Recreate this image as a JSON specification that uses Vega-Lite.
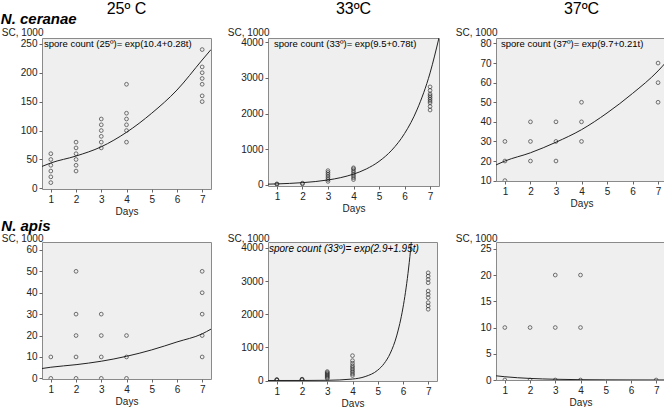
{
  "$schema": "https://vega.github.io/schema/vega-lite/v6.json",
  "padding": {"left": 0, "top": 0, "right": 0, "bottom": 0},
  "title": {"text": "N. ceranae", "anchor": "start", "frame": "bounds", "fontSize": 15, "fontStyle": "italic", "fontWeight": "bold", "font": "Liberation Sans", "color": "#000000", "dy": 38, "offset": 0, "baseline": "alphabetic"},
  "datasets": {
    "p1": [
      {"day": 1, "sc": 10}, {"day": 1, "sc": 20}, {"day": 1, "sc": 30}, {"day": 1, "sc": 40}, {"day": 1, "sc": 50}, {"day": 1, "sc": 60},
      {"day": 2, "sc": 30}, {"day": 2, "sc": 40}, {"day": 2, "sc": 50}, {"day": 2, "sc": 60}, {"day": 2, "sc": 70}, {"day": 2, "sc": 80},
      {"day": 3, "sc": 70}, {"day": 3, "sc": 80}, {"day": 3, "sc": 90}, {"day": 3, "sc": 100}, {"day": 3, "sc": 110}, {"day": 3, "sc": 120},
      {"day": 4, "sc": 80}, {"day": 4, "sc": 100}, {"day": 4, "sc": 110}, {"day": 4, "sc": 120}, {"day": 4, "sc": 130}, {"day": 4, "sc": 180},
      {"day": 7, "sc": 150}, {"day": 7, "sc": 160}, {"day": 7, "sc": 180}, {"day": 7, "sc": 190}, {"day": 7, "sc": 200}, {"day": 7, "sc": 210}, {"day": 7, "sc": 240}
    ],
    "c1": [
      {"day": 0.65, "sc": 38}, {"day": 1, "sc": 44}, {"day": 2, "sc": 56}, {"day": 3, "sc": 72}, {"day": 4, "sc": 97},
      {"day": 5, "sc": 130}, {"day": 6, "sc": 170}, {"day": 7, "sc": 222}, {"day": 7.35, "sc": 240}
    ],
    "p2": [
      {"day": 1, "sc": 20}, {"day": 1, "sc": 30},
      {"day": 2, "sc": 30}, {"day": 2, "sc": 50},
      {"day": 3, "sc": 100}, {"day": 3, "sc": 150}, {"day": 3, "sc": 200}, {"day": 3, "sc": 250}, {"day": 3, "sc": 300}, {"day": 3, "sc": 350}, {"day": 3, "sc": 400},
      {"day": 4, "sc": 150}, {"day": 4, "sc": 200}, {"day": 4, "sc": 250}, {"day": 4, "sc": 300}, {"day": 4, "sc": 350}, {"day": 4, "sc": 400}, {"day": 4, "sc": 450}, {"day": 4, "sc": 480},
      {"day": 7, "sc": 2100}, {"day": 7, "sc": 2200}, {"day": 7, "sc": 2300}, {"day": 7, "sc": 2350}, {"day": 7, "sc": 2400}, {"day": 7, "sc": 2450}, {"day": 7, "sc": 2500}, {"day": 7, "sc": 2550}, {"day": 7, "sc": 2650}, {"day": 7, "sc": 2750}
    ],
    "c2": [
      {"day": 0.65, "sc": 22}, {"day": 1, "sc": 29}, {"day": 1.5, "sc": 43}, {"day": 2, "sc": 64}, {"day": 2.5, "sc": 94},
      {"day": 3, "sc": 139}, {"day": 3.5, "sc": 205}, {"day": 4, "sc": 303}, {"day": 4.5, "sc": 447}, {"day": 5, "sc": 660},
      {"day": 5.5, "sc": 975}, {"day": 6, "sc": 1440}, {"day": 6.5, "sc": 2127}, {"day": 7, "sc": 3141}, {"day": 7.35, "sc": 4127}
    ],
    "p3": [
      {"day": 1, "sc": 10}, {"day": 1, "sc": 20}, {"day": 1, "sc": 30},
      {"day": 2, "sc": 20}, {"day": 2, "sc": 30}, {"day": 2, "sc": 40},
      {"day": 3, "sc": 20}, {"day": 3, "sc": 30}, {"day": 3, "sc": 40},
      {"day": 4, "sc": 30}, {"day": 4, "sc": 40}, {"day": 4, "sc": 50},
      {"day": 7, "sc": 50}, {"day": 7, "sc": 60}, {"day": 7, "sc": 70}
    ],
    "c3": [
      {"day": 0.65, "sc": 18}, {"day": 1, "sc": 20}, {"day": 2, "sc": 24.2}, {"day": 3, "sc": 29.6}, {"day": 4, "sc": 36},
      {"day": 5, "sc": 44.5}, {"day": 6, "sc": 54.5}, {"day": 7, "sc": 66}, {"day": 7.35, "sc": 71}
    ],
    "p4": [
      {"day": 1, "sc": 0}, {"day": 1, "sc": 10},
      {"day": 2, "sc": 0}, {"day": 2, "sc": 10}, {"day": 2, "sc": 20}, {"day": 2, "sc": 30}, {"day": 2, "sc": 50},
      {"day": 3, "sc": 0}, {"day": 3, "sc": 10}, {"day": 3, "sc": 20}, {"day": 3, "sc": 30},
      {"day": 4, "sc": 0}, {"day": 4, "sc": 10}, {"day": 4, "sc": 20},
      {"day": 7, "sc": 10}, {"day": 7, "sc": 20}, {"day": 7, "sc": 30}, {"day": 7, "sc": 40}, {"day": 7, "sc": 50}
    ],
    "c4": [
      {"day": 0.65, "sc": 4.6}, {"day": 1, "sc": 5.2}, {"day": 2, "sc": 6.4}, {"day": 3, "sc": 8.0}, {"day": 4, "sc": 10.3},
      {"day": 5, "sc": 13.3}, {"day": 6, "sc": 17}, {"day": 7, "sc": 20.8}, {"day": 7.35, "sc": 23}
    ],
    "p5": [
      {"day": 1, "sc": 10}, {"day": 1, "sc": 20}, {"day": 1, "sc": 30},
      {"day": 2, "sc": 20}, {"day": 2, "sc": 30}, {"day": 2, "sc": 40},
      {"day": 3, "sc": 60}, {"day": 3, "sc": 90}, {"day": 3, "sc": 120}, {"day": 3, "sc": 150}, {"day": 3, "sc": 180}, {"day": 3, "sc": 210}, {"day": 3, "sc": 240}, {"day": 3, "sc": 270},
      {"day": 4, "sc": 150}, {"day": 4, "sc": 200}, {"day": 4, "sc": 250}, {"day": 4, "sc": 300}, {"day": 4, "sc": 350}, {"day": 4, "sc": 400}, {"day": 4, "sc": 450}, {"day": 4, "sc": 520}, {"day": 4, "sc": 600}, {"day": 4, "sc": 750},
      {"day": 7, "sc": 2150}, {"day": 7, "sc": 2250}, {"day": 7, "sc": 2350}, {"day": 7, "sc": 2500}, {"day": 7, "sc": 2600}, {"day": 7, "sc": 2700}, {"day": 7, "sc": 2950}, {"day": 7, "sc": 3050}, {"day": 7, "sc": 3150}, {"day": 7, "sc": 3250}
    ],
    "c5": [
      {"day": 0.65, "sc": 0.07}, {"day": 1, "sc": 0.13}, {"day": 2, "sc": 0.9}, {"day": 3, "sc": 6.3}, {"day": 4, "sc": 44},
      {"day": 4.5, "sc": 118}, {"day": 5, "sc": 312}, {"day": 5.25, "sc": 508}, {"day": 5.5, "sc": 826}, {"day": 5.75, "sc": 1345},
      {"day": 6, "sc": 2191}, {"day": 6.1, "sc": 2662}, {"day": 6.2, "sc": 3234}, {"day": 6.3, "sc": 3930}, {"day": 6.4, "sc": 4775}
    ],
    "p6": [
      {"day": 1, "sc": 0}, {"day": 1, "sc": 10},
      {"day": 2, "sc": 0}, {"day": 2, "sc": 10},
      {"day": 3, "sc": 0}, {"day": 3, "sc": 10}, {"day": 3, "sc": 20},
      {"day": 4, "sc": 0}, {"day": 4, "sc": 10}, {"day": 4, "sc": 20},
      {"day": 7, "sc": 0}
    ],
    "c6": [
      {"day": 0.65, "sc": 0.8}, {"day": 1, "sc": 0.62}, {"day": 2, "sc": 0.3}, {"day": 3, "sc": 0.14}, {"day": 4, "sc": 0.06},
      {"day": 5, "sc": 0.03}, {"day": 6, "sc": 0.012}, {"day": 7, "sc": 0.005}, {"day": 7.35, "sc": 0.004}
    ]
  },
  "columns": 3,
  "spacing": {"row": 53, "column": 57},
  "bounds": "flush",
  "concat": [
    {
      "width": 169, "height": 151,
      "title": {"text": "25º C"},
      "layer": [
        {"data": {"name": "p1"}, "mark": {"type": "point", "shape": "circle", "filled": false, "size": 14, "color": "#222222", "strokeWidth": 0.9, "clip": true},
         "encoding": {
           "x": {"field": "day", "type": "quantitative", "scale": {"domain": [0.65, 7.35], "nice": false, "zero": false}, "axis": {"values": [1, 2, 3, 4, 5, 6, 7], "tickCount": 50, "format": "d", "title": "Days", "labelOverlap": false}},
           "y": {"field": "sc", "type": "quantitative", "scale": {"domain": [-1, 260], "nice": false, "zero": false}, "axis": {"values": [0, 50, 100, 150, 200, 250], "tickCount": 50, "title": "SC, 1000", "titleY": -3, "format": "d", "labelOverlap": false}}}},
        {"data": {"name": "c1"}, "mark": {"type": "line", "interpolate": "monotone", "clip": true, "color": "#222222", "strokeWidth": 1},
         "encoding": {"x": {"field": "day", "type": "quantitative"}, "y": {"field": "sc", "type": "quantitative"}}},
        {"data": {"values": [{"label": "spore count (25º)= exp(10.4+0.28t)"}]}, "mark": {"type": "text", "align": "left", "baseline": "top", "dx": 2, "dy": 1, "fontSize": 9.5, "color": "#000000"},
         "encoding": {"x": {"datum": 0.65}, "y": {"datum": 260}, "text": {"field": "label"}}}
      ]
    },
    {
      "width": 171, "height": 148,
      "title": {"text": "33ºC"},
      "layer": [
        {"data": {"name": "p2"}, "mark": {"type": "point", "shape": "circle", "filled": false, "size": 14, "color": "#222222", "strokeWidth": 0.9, "clip": true},
         "encoding": {
           "x": {"field": "day", "type": "quantitative", "scale": {"domain": [0.65, 7.35], "nice": false, "zero": false}, "axis": {"values": [1, 2, 3, 4, 5, 6, 7], "tickCount": 50, "format": "d", "title": "Days", "labelOverlap": false}},
           "y": {"field": "sc", "type": "quantitative", "scale": {"domain": [-30, 4120], "nice": false, "zero": false}, "axis": {"values": [0, 1000, 2000, 3000, 4000], "tickCount": 50, "title": "SC, 1000", "titleY": -3, "format": "d", "labelOverlap": false}}}},
        {"data": {"name": "c2"}, "mark": {"type": "line", "interpolate": "monotone", "clip": true, "color": "#222222", "strokeWidth": 1},
         "encoding": {"x": {"field": "day", "type": "quantitative"}, "y": {"field": "sc", "type": "quantitative"}}},
        {"data": {"values": [{"label": "spore count (33º)= exp(9.5+0.78t)"}]}, "mark": {"type": "text", "align": "left", "baseline": "top", "dx": 6, "dy": 1, "fontSize": 9.5, "color": "#000000"},
         "encoding": {"x": {"datum": 0.65}, "y": {"datum": 4120}, "text": {"field": "label"}}}
      ]
    },
    {
      "width": 171, "height": 143,
      "title": {"text": "37ºC"},
      "layer": [
        {"data": {"name": "p3"}, "mark": {"type": "point", "shape": "circle", "filled": false, "size": 14, "color": "#222222", "strokeWidth": 0.9, "clip": true},
         "encoding": {
           "x": {"field": "day", "type": "quantitative", "scale": {"domain": [0.65, 7.35], "nice": false, "zero": false}, "axis": {"values": [1, 2, 3, 4, 5, 6, 7], "tickCount": 50, "format": "d", "title": "Days", "labelOverlap": false}},
           "y": {"field": "sc", "type": "quantitative", "scale": {"domain": [9.8, 82.8], "nice": false, "zero": false}, "axis": {"values": [10, 20, 30, 40, 50, 60, 70, 80], "tickCount": 50, "title": "SC, 1000", "titleY": -3, "format": "d", "labelOverlap": false}}}},
        {"data": {"name": "c3"}, "mark": {"type": "line", "interpolate": "monotone", "clip": true, "color": "#222222", "strokeWidth": 1},
         "encoding": {"x": {"field": "day", "type": "quantitative"}, "y": {"field": "sc", "type": "quantitative"}}},
        {"data": {"values": [{"label": "spore count (37º)= exp(9.7+0.21t)"}]}, "mark": {"type": "text", "align": "left", "baseline": "top", "dx": 5, "dy": 1, "fontSize": 9.5, "color": "#000000"},
         "encoding": {"x": {"datum": 0.65}, "y": {"datum": 82.8}, "text": {"field": "label"}}}
      ]
    },
    {
      "width": 169, "height": 137,
      "title": {"text": "N. apis", "anchor": "start", "frame": "bounds", "fontSize": 15, "fontStyle": "italic", "fontWeight": "bold", "offset": 0, "dy": 1},
      "layer": [
        {"data": {"name": "p4"}, "mark": {"type": "point", "shape": "circle", "filled": false, "size": 14, "color": "#222222", "strokeWidth": 0.9, "clip": true},
         "encoding": {
           "x": {"field": "day", "type": "quantitative", "scale": {"domain": [0.65, 7.35], "nice": false, "zero": false}, "axis": {"values": [1, 2, 3, 4, 5, 6, 7], "tickCount": 50, "format": "d", "title": "Days", "labelOverlap": false}},
           "y": {"field": "sc", "type": "quantitative", "scale": {"domain": [-0.3, 63.7], "nice": false, "zero": false}, "axis": {"values": [0, 10, 20, 30, 40, 50, 60], "tickCount": 50, "title": "SC, 1000", "format": "d", "labelOverlap": false}}}},
        {"data": {"name": "c4"}, "mark": {"type": "line", "interpolate": "monotone", "clip": true, "color": "#222222", "strokeWidth": 1},
         "encoding": {"x": {"field": "day", "type": "quantitative"}, "y": {"field": "sc", "type": "quantitative"}}}
      ]
    },
    {
      "width": 169, "height": 139,
      "layer": [
        {"data": {"name": "p5"}, "mark": {"type": "point", "shape": "circle", "filled": false, "size": 14, "color": "#222222", "strokeWidth": 0.9, "clip": true},
         "encoding": {
           "x": {"field": "day", "type": "quantitative", "scale": {"domain": [0.65, 7.35], "nice": false, "zero": false}, "axis": {"values": [1, 2, 3, 4, 5, 6, 7], "tickCount": 50, "format": "d", "title": "Days", "labelOverlap": false}},
           "y": {"field": "sc", "type": "quantitative", "scale": {"domain": [-15, 4180], "nice": false, "zero": false}, "axis": {"values": [0, 1000, 2000, 3000, 4000], "tickCount": 50, "title": "SC, 1000", "format": "d", "labelOverlap": false}}}},
        {"data": {"name": "c5"}, "mark": {"type": "line", "interpolate": "monotone", "clip": true, "color": "#222222", "strokeWidth": 1},
         "encoding": {"x": {"field": "day", "type": "quantitative"}, "y": {"field": "sc", "type": "quantitative"}}},
        {"data": {"values": [{"label": "spore count (33º)= exp(2.9+1.95t)"}]}, "mark": {"type": "text", "align": "left", "baseline": "top", "dx": 1, "dy": 1.5, "fontSize": 10, "fontStyle": "italic", "color": "#000000"},
         "encoding": {"x": {"datum": 0.65}, "y": {"datum": 4180}, "text": {"field": "label"}}}
      ]
    },
    {
      "width": 169, "height": 138,
      "layer": [
        {"data": {"name": "p6"}, "mark": {"type": "point", "shape": "circle", "filled": false, "size": 14, "color": "#222222", "strokeWidth": 0.9, "clip": true},
         "encoding": {
           "x": {"field": "day", "type": "quantitative", "scale": {"domain": [0.65, 7.35], "nice": false, "zero": false}, "axis": {"values": [1, 2, 3, 4, 5, 6, 7], "tickCount": 50, "format": "d", "title": "Days", "labelOverlap": false}},
           "y": {"field": "sc", "type": "quantitative", "scale": {"domain": [0, 26.3], "nice": false, "zero": false}, "axis": {"values": [0, 5, 10, 15, 20, 25], "tickCount": 50, "title": "SC, 1000", "format": "d", "labelOverlap": false}}}},
        {"data": {"name": "c6"}, "mark": {"type": "line", "interpolate": "monotone", "clip": true, "color": "#222222", "strokeWidth": 1},
         "encoding": {"x": {"field": "day", "type": "quantitative"}, "y": {"field": "sc", "type": "quantitative"}}}
      ]
    }
  ],
  "config": {
    "font": "Liberation Sans",
    "background": "#ffffff",
    "view": {"fill": "#efefef", "stroke": "#8a8a8a", "strokeWidth": 1},
    "title": {"font": "Liberation Sans", "fontSize": 16, "fontWeight": "normal", "color": "#000000", "frame": "group", "anchor": "middle", "baseline": "alphabetic", "offset": 10},
    "axis": {"grid": false, "domain": false, "labelFont": "Liberation Sans", "labelFontSize": 10, "labelColor": "#222222", "tickColor": "#666666", "tickSize": 3, "labelPadding": 2, "labelFlush": false, "labelOverlap": false, "titleFont": "Liberation Sans", "titleFontSize": 10, "titleFontWeight": "normal", "titleColor": "#222222"},
    "axisY": {"titleAngle": 0, "titleAlign": "right", "titleBaseline": "alphabetic", "titleX": 1, "titleY": -1},
    "axisX": {"titlePadding": 2}
  }
}
